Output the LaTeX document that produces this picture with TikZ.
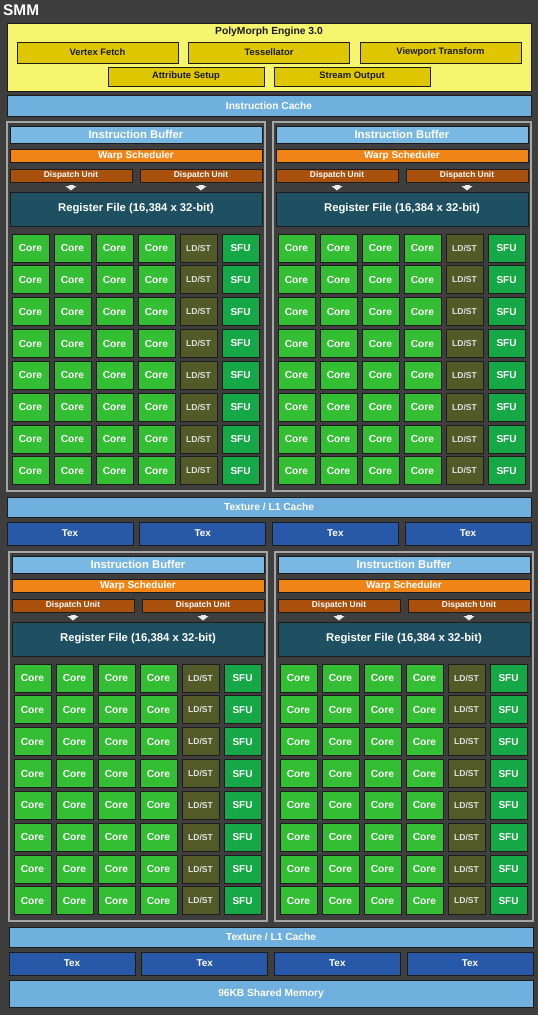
\documentclass[tikz,border=0pt]{standalone}
\usepackage{fontspec}
\setmainfont{Liberation Sans}
\usetikzlibrary{positioning,arrows.meta}

\definecolor{smmbg}{RGB}{62,62,62}
\definecolor{pmyellow}{RGB}{246,246,110}
\definecolor{pmunit}{RGB}{222,198,0}
\definecolor{cacheblue}{RGB}{112,176,222}
\definecolor{ibblue}{RGB}{122,184,228}
\definecolor{warporange}{RGB}{240,132,22}
\definecolor{dispbrown}{RGB}{168,80,12}
\definecolor{regteal}{RGB}{30,80,98}
\definecolor{coregreen}{RGB}{52,190,52}
\definecolor{ldstolive}{RGB}{82,90,40}
\definecolor{sfugreen}{RGB}{22,168,70}
\definecolor{texblue}{RGB}{40,88,168}
\definecolor{framegray}{RGB}{165,165,165}
\definecolor{edgedark}{RGB}{28,28,28}

\newcommand{\fs}[1]{\fontsize{#1}{#1}\selectfont\bfseries}

\tikzset{
  blk/.style={draw=edgedark, line width=1pt, inner sep=0pt, text=white, align=center},
  pmbox/.style={blk, fill=pmunit, text=edgedark, minimum width=161, minimum height=21, font=\fs{9.4}},
  wide/.style={blk, fill=cacheblue, minimum width=524, font=\fs{10.2}},
  tex/.style={blk, fill=texblue, minimum width=126, minimum height=23, font=\fs{9.9}},
  ibuf/.style={blk, fill=ibblue, minimum width=252, minimum height=17, font=\fs{11.3}},
  warp/.style={blk, fill=warporange, minimum width=252, minimum height=13, font=\fs{10}},
  disp/.style={blk, fill=dispbrown, minimum width=122, minimum height=13, font=\fs{8.4}},
  regf/.style={blk, fill=regteal, minimum width=252, minimum height=34, font=\fs{11.3}},
  cell/.style={blk, minimum width=37, minimum height=28},
  core/.style={cell, fill=coregreen, font=\fs{10.2}},
  ldst/.style={cell, fill=ldstolive, text=white!88!black, font=\fs{8.6}},
  sfu/.style={cell, fill=sfugreen, font=\fs{10}},
  frame/.style={draw=framegray, line width=1.5pt},
  darr/.style={line width=5pt, draw=white!92!black, -{Triangle[width=11pt,length=4.5pt]}, shorten <=2pt, shorten >=1pt}
}

\begin{document}
\begin{tikzpicture}[x=1pt, y=-1pt]
\fill[smmbg] (0,0) rectangle (538,1015);
\useasboundingbox (0,0) rectangle (538,1015);

\node[font=\fs{15.4}, text=white, anchor=west, inner sep=0pt] (smm) at (3,10.5) {SMM};

% PolyMorph Engine
\node[blk, fill=pmyellow, minimum width=524, minimum height=68] (pm) at (269,57) {};
\node[font=\fs{10.3}, text=edgedark] (pmtitle) at (269,32) {PolyMorph Engine 3.0};
\node[pmbox] (vf) at (97.5,52.5) {Vertex Fetch};
\node[pmbox] (tess) at (269,52.5) {Tessellator};
\node[pmbox] (vpt) at (440.5,52.5) {Viewport Transform};
\node[pmbox, minimum width=156, minimum height=19] (as) at (186,76.5) {Attribute Setup};
\node[pmbox, minimum width=156, minimum height=19] (so) at (352,76.5) {Stream Output};

\node[wide, minimum height=21] (icache) at (269,105.5) {Instruction Cache};

% four processing blocks
\foreach \q/\dx/\dy in {a/0/0, b/266/0, c/2/430, d/268/430} {
  \begin{scope}[shift={(\dx,\dy)}]
    \draw[frame] (7,122) rectangle (265,491);
    \node[ibuf] (\q-ib) at (136,134.5) {Instruction Buffer};
    \node[warp] (\q-ws) at (136,155.5) {Warp Scheduler};
    \node[disp] (\q-du1) at (71,175.5) {Dispatch Unit};
    \node[disp] (\q-du2) at (201,175.5) {Dispatch Unit};
    \node[regf] (\q-rf) at (136,209) {Register File (16,384 x 32-bit)};
    \draw[darr] (\q-du1) -- (\q-du1 |- \q-rf.north);
    \draw[darr] (\q-du2) -- (\q-du2 |- \q-rf.north);
    % cores, load/store and special function units
    \foreach \r in {0,...,7} {
      \foreach \c in {0,...,3}
        \node[core] (\q-c\r\c) at ({30.5+42*\c},{248+31.85*\r}) {Core};
      \node[ldst] (\q-l\r) at (198.5,{248+31.85*\r}) {LD/ST};
      \node[sfu] (\q-s\r) at (240.5,{248+31.85*\r}) {SFU};
    }
  \end{scope}
}

% Texture units and shared memory
\node[wide, minimum height=20] (tltop) at (269,507) {Texture / L1 Cache};
\foreach \i in {0,...,3}
  \node[tex] (textop\i) at ({70+132.67*\i},533.5) {Tex};
\node[wide, minimum height=20] (tlbot) at (271,937) {Texture / L1 Cache};
\foreach \i in {0,...,3}
  \node[tex] (texbot\i) at ({72+132.67*\i},963.5) {Tex};
\node[wide, minimum height=27] (shmem) at (271,993.5) {96KB Shared Memory};

\end{tikzpicture}
\end{document}
